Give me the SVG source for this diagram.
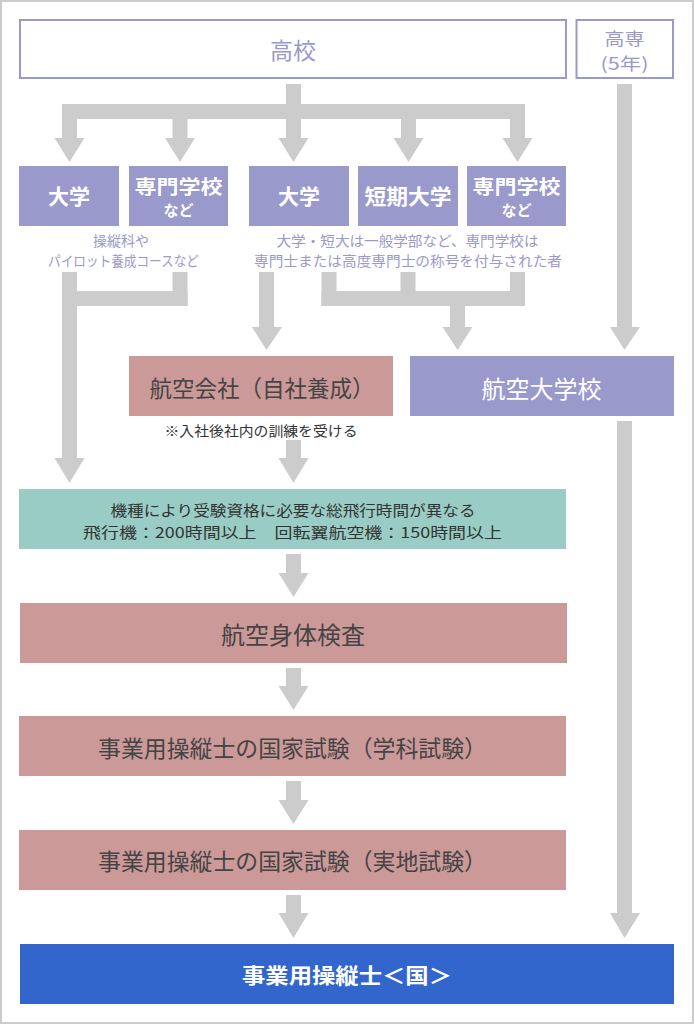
<svg xmlns="http://www.w3.org/2000/svg" width="694" height="1024" viewBox="0 0 694 1024">
<style>
text{font-family:"Noto Sans CJK JP","Noto Sans",sans-serif;text-anchor:middle;dominant-baseline:central}
.lav{fill:#9999cc}
.pink{fill:#cc9999}
.teal{fill:#99ccc4}
.outline{fill:#fff;stroke:#9999cc;stroke-width:2}
.wb{fill:#fff;font-weight:bold;font-size:21px}
.lt{fill:#9999cc}
.dk{fill:#444}
.conn{fill:#cccccc}
</style>
<rect x="1" y="1" width="692" height="1022" fill="#fff" stroke="#cccccc" stroke-width="2"/>
<g id="connectors" class="conn">
<rect x="286" y="84" width="15" height="21"/>
<rect x="62" y="104" width="463" height="15"/>
<rect x="62" y="118" width="15" height="21"/><polygon points="54.5,138 84.5,138 69.5,162"/>
<rect x="172.5" y="118" width="15" height="21"/><polygon points="165,138 195,138 180,162"/>
<rect x="286" y="118" width="15" height="21"/><polygon points="278.5,138 308.5,138 293.5,162"/>
<rect x="401" y="118" width="15" height="21"/><polygon points="393.5,138 423.5,138 408.5,162"/>
<rect x="510" y="118" width="15" height="21"/><polygon points="502.5,138 532.5,138 517.5,162"/>
<rect x="617" y="84" width="15" height="244"/><polygon points="610,327 640,327 624.5,350"/>
<rect x="62" y="272" width="15" height="187"/><polygon points="54.5,458 84.5,458 69.5,483"/>
<rect x="172.5" y="272" width="15" height="34"/><rect x="62" y="291" width="125.5" height="15"/>
<rect x="259" y="272" width="15" height="56"/><polygon points="252,327 282,327 266.5,350"/>
<rect x="321.5" y="272" width="15" height="34"/>
<rect x="400.5" y="272" width="15" height="20"/>
<rect x="510" y="272" width="15" height="34"/>
<rect x="321.5" y="291" width="203.5" height="15"/>
<rect x="450" y="305" width="15" height="23"/><polygon points="442.5,327 472.5,327 457.5,350"/>
<rect x="286" y="440" width="15" height="19"/><polygon points="278.5,458 308.5,458 293.5,483"/>
<rect x="617" y="421" width="15" height="493"/><polygon points="610,913 640,913 624.5,938"/>
<rect x="286" y="554" width="15" height="20"/><polygon points="278.5,573 308.5,573 293.5,597"/>
<rect x="286" y="668" width="15" height="19"/><polygon points="278.5,686 308.5,686 293.5,710"/>
<rect x="286" y="781" width="15" height="20"/><polygon points="278.5,800 308.5,800 293.5,824"/>
<rect x="286" y="895" width="15" height="19"/><polygon points="278.5,913 308.5,913 293.5,938"/>
</g>
<g id="koukou"><rect class="outline" x="20" y="20" width="546" height="58"/><text class="lt" x="293" y="49" font-size="23">高校</text></g>
<g id="kousen"><rect class="outline" x="576.5" y="20" width="96.5" height="58"/><text class="lt" x="624.5" y="37" font-size="17" textLength="40" lengthAdjust="spacingAndGlyphs">高専</text><text class="lt" x="624.5" y="62" font-size="17" textLength="48" lengthAdjust="spacingAndGlyphs">(5年)</text></g>
<g id="daigaku1"><rect class="lav" x="19" y="166" width="100" height="60"/><text class="wb" x="69" y="195" font-size="22">大学</text></g>
<g id="senmon1"><rect class="lav" x="129" y="166" width="99" height="60"/><text class="wb"><tspan x="178.5" y="185" font-size="19" textLength="88" lengthAdjust="spacingAndGlyphs">専門学校</tspan><tspan x="178.5" y="209" font-size="15">など</tspan></text></g>
<g id="daigaku2"><rect class="lav" x="249" y="166" width="100" height="60"/><text class="wb" x="299" y="195" font-size="22">大学</text></g>
<g id="tanki"><rect class="lav" x="358" y="166" width="100" height="60"/><text class="wb" x="408" y="195" textLength="87" lengthAdjust="spacingAndGlyphs">短期大学</text></g>
<g id="senmon2"><rect class="lav" x="467" y="166" width="99" height="60"/><text class="wb"><tspan x="516.5" y="185" font-size="19" textLength="88" lengthAdjust="spacingAndGlyphs">専門学校</tspan><tspan x="516.5" y="209" font-size="15">など</tspan></text></g>
<g id="note1"><text class="lt" x="121" y="240" font-size="14">操縦科や</text><text class="lt" x="123.5" y="260" font-size="14" textLength="151" lengthAdjust="spacingAndGlyphs">パイロット養成コースなど</text></g>
<g id="note2"><text class="lt" x="407.5" y="240" font-size="14" textLength="262" lengthAdjust="spacingAndGlyphs">大学・短大は一般学部など、専門学校は</text><text class="lt" x="408" y="260" font-size="14" textLength="308" lengthAdjust="spacingAndGlyphs">専門士または高度専門士の称号を付与された者</text></g>
<g id="koukuukaisha"><rect class="pink" x="129" y="356" width="264" height="60"/><text class="dk" x="262" y="387" font-size="23" textLength="225" lengthAdjust="spacingAndGlyphs">航空会社（自社養成）</text></g>
<g id="note3"><text fill="#333" x="261" y="430" font-size="14" textLength="193" lengthAdjust="spacingAndGlyphs">※入社後社内の訓練を受ける</text></g>
<g id="koukuudaigakkou"><rect class="lav" x="410" y="356" width="264" height="60"/><text fill="#fff" x="541.5" y="387" font-size="24">航空大学校</text></g>
<g id="hikoujikan"><rect class="teal" x="19" y="489" width="547" height="60"/><text fill="#333" x="293" y="509" font-size="15" textLength="365" lengthAdjust="spacingAndGlyphs">機種により受験資格に必要な総飛行時間が異なる</text><text fill="#333" x="292.5" y="531.5" font-size="15" textLength="419" lengthAdjust="spacingAndGlyphs">飛行機：200時間以上　回転翼航空機：150時間以上</text></g>
<g id="shintai"><rect class="pink" x="20" y="603" width="547" height="60"/><text class="dk" x="293" y="633" font-size="24">航空身体検査</text></g>
<g id="gakka"><rect class="pink" x="19" y="716" width="547" height="60"/><text class="dk" x="292.5" y="747" font-size="23" textLength="389" lengthAdjust="spacingAndGlyphs">事業用操縦士の国家試験（学科試験）</text></g>
<g id="jitchi"><rect class="pink" x="19" y="830" width="547" height="60"/><text class="dk" x="292.5" y="860" font-size="23" textLength="389" lengthAdjust="spacingAndGlyphs">事業用操縦士の国家試験（実地試験）</text></g>
<g id="final"><rect fill="#3366cc" x="20" y="944" width="654" height="60"/><text class="wb" x="347" y="974" font-size="22" textLength="210" lengthAdjust="spacingAndGlyphs">事業用操縦士＜国＞</text></g>
</svg>
